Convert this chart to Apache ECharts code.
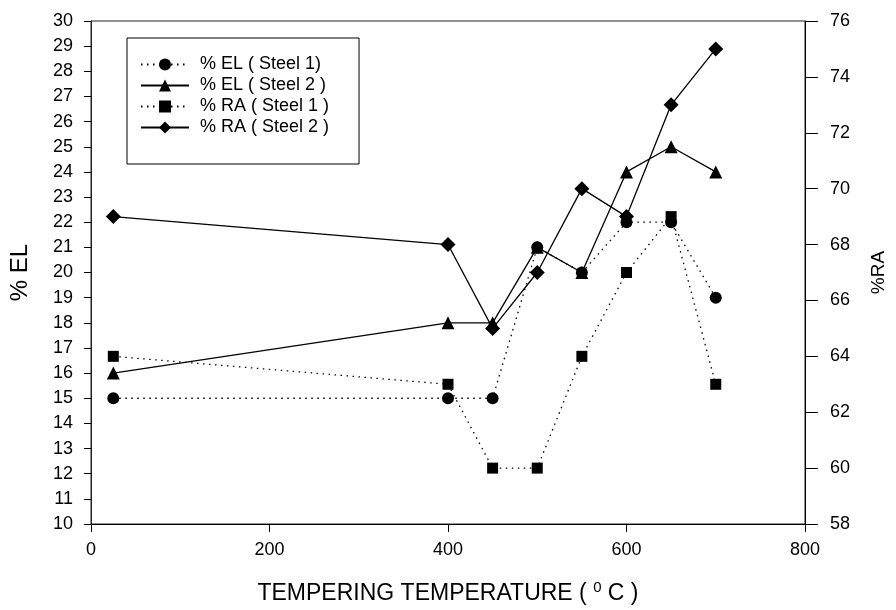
<!DOCTYPE html>
<html>
<head>
<meta charset="utf-8">
<script src="https://cdn.jsdelivr.net/npm/echarts@6/dist/echarts.min.js"></script>
<style>
  html, body { margin: 0; padding: 0; background: #fff; overflow: hidden; }
  #chart { width: 896px; height: 610px; }
</style>
</head>
<body>
<div id="chart"></div>
<script>
// Tempering temperature (°C)
var temps = [25, 400, 450, 500, 550, 600, 650, 700];
// Elongation (%), left axis
var elSteel1 = [15, 15, 15, 21, 20, 22, 22, 19];
var elSteel2 = [16, 18, 18, 21, 20, 24, 25, 24];
// Reduction of area (%), right axis
var raSteel1 = [64, 63, 60, 60, 64, 67, 69, 63];
var raSteel2 = [69, 68, 65, 67, 70, 69, 73, 75];

var seriesNames = ['% EL ( Steel 1)', '% EL ( Steel 2 )', '% RA ( Steel 1 )', '% RA ( Steel 2 )'];

function pairs(ys) {
  return temps.map(function (t, i) { return [t, ys[i]]; });
}

var FONT = '"Liberation Sans", Arial, sans-serif';
var dotted = { color: '#000', width: 1.3, type: [1.5, 4.5] };
var solid = { color: '#000', width: 1.3, type: 'solid' };

var chart = echarts.init(document.getElementById('chart'), null, { renderer: 'canvas' });

chart.setOption({
  backgroundColor: '#fff',
  animation: false,
  textStyle: { fontFamily: FONT, color: '#000' },
  grid: {
    left: 91, right: 84, top: 21, bottom: 86,
    show: true, borderColor: '#222', borderWidth: 1
  },
  legend: {
    orient: 'vertical',
    left: 127, top: 38,
    padding: [16, 30, 26, 13],
    itemWidth: 48, itemHeight: 15, itemGap: 0,
    borderColor: '#000', borderWidth: 1,
    backgroundColor: '#fff',
    textStyle: { fontFamily: FONT, fontSize: 18, lineHeight: 21, color: '#000', padding: [0, 0, 0, 6] },
    data: seriesNames
  },
  xAxis: {
    type: 'value',
    min: 0, max: 800, interval: 200,
    name: 'TEMPERING TEMPERATURE ( {sup|0} C )',
    nameLocation: 'middle',
    nameGap: 56,
    nameTextStyle: {
      fontFamily: FONT, fontSize: 23, color: '#000',
      rich: { sup: { fontFamily: FONT, fontSize: 15, verticalAlign: 'top', padding: [0, 0, 12, 0] } }
    },
    axisLine: { show: true, lineStyle: { color: '#000', width: 1 } },
    axisTick: { show: true, inside: false, length: 8, lineStyle: { color: '#000' } },
    axisLabel: { fontFamily: FONT, fontSize: 18, color: '#000', margin: 17 },
    splitLine: { show: false }
  },
  yAxis: [
    {
      type: 'value', position: 'left',
      min: 10, max: 30, interval: 1,
      name: '% EL', nameLocation: 'middle', nameRotate: 90, nameGap: 59,
      nameTextStyle: { fontFamily: FONT, fontSize: 24, color: '#000' },
      axisLine: { show: true, lineStyle: { color: '#222', width: 1 } },
      axisTick: { show: true, length: 7, lineStyle: { color: '#000' } },
      axisLabel: { fontFamily: FONT, fontSize: 18, color: '#000', margin: 18 },
      splitLine: { show: false }
    },
    {
      type: 'value', position: 'right',
      min: 58, max: 76, interval: 2,
      name: '%RA', nameLocation: 'middle', nameRotate: 90, nameGap: 64,
      nameTextStyle: { fontFamily: FONT, fontSize: 19, color: '#000' },
      axisLine: { show: true, lineStyle: { color: '#000', width: 1 } },
      axisTick: { show: true, length: 13, lineStyle: { color: '#000' } },
      axisLabel: { fontFamily: FONT, fontSize: 18, color: '#000', margin: 25 },
      splitLine: { show: false }
    }
  ],
  series: [
    {
      name: seriesNames[0], type: 'line', yAxisIndex: 0,
      data: pairs(elSteel1),
      symbol: 'circle', symbolSize: 12,
      itemStyle: { color: '#000' }, lineStyle: dotted, z: 4
    },
    {
      name: seriesNames[1], type: 'line', yAxisIndex: 0,
      data: pairs(elSteel2),
      symbol: 'triangle', symbolSize: 13,
      itemStyle: { color: '#000' }, lineStyle: solid, z: 3
    },
    {
      name: seriesNames[2], type: 'line', yAxisIndex: 1,
      data: pairs(raSteel1),
      symbol: 'rect', symbolSize: 11,
      itemStyle: { color: '#000' }, lineStyle: dotted, z: 3
    },
    {
      name: seriesNames[3], type: 'line', yAxisIndex: 1,
      data: pairs(raSteel2),
      symbol: 'diamond', symbolSize: 15,
      itemStyle: { color: '#000' }, lineStyle: solid, z: 3
    }
  ]
});
</script>
</body>
</html>
